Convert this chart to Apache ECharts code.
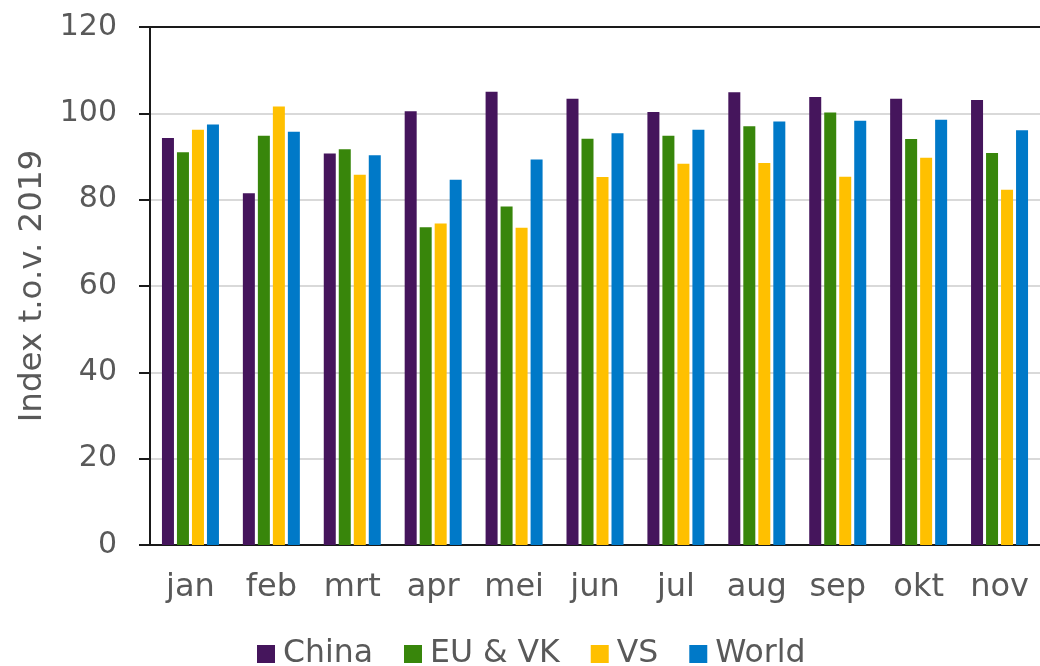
<!DOCTYPE html>
<html>
<head>
<meta charset="utf-8">
<script src="https://cdn.jsdelivr.net/npm/echarts@6/dist/echarts.min.js"></script>
<style>html,body{margin:0;padding:0;background:#fff}#c{width:1040px;height:666px}</style>
</head>
<body>
<div id="c"></div>
<script>
const categories = ['jan','feb','mrt','apr','mei','jun','jul','aug','sep','okt','nov'];
const seriesNames = ['China','EU & VK','VS','World'];
const china = [94.3, 81.5, 90.7, 100.5, 105.0, 103.4, 100.3, 104.9, 103.8, 103.4, 103.1];
const euVk  = [91.0, 94.8, 91.7, 73.6, 78.4, 94.1, 94.8, 97.0, 100.2, 94.05, 90.8];
const vs    = [96.2, 101.6, 85.8, 74.5, 73.5, 85.25, 88.3, 88.5, 85.3, 89.7, 82.3];
const world = [97.4, 95.75, 90.3, 84.6, 89.3, 95.4, 96.2, 98.1, 98.3, 98.5, 96.1];
const yTicks = [0, 20, 40, 60, 80, 100, 120];

const colors = ['#45155c', '#38860b', '#ffc000', '#0079c8'];
const font = 'DejaVu Sans';
const textColor = '#595959';

const chart = echarts.init(document.getElementById('c'), null, {renderer: 'canvas'});
const dataSets = [china, euVk, vs, world];
chart.setOption({
  animation: false,
  color: colors,
  grid: {left: 150, right: 0, top: 27, bottom: 121, containLabel: false},
  legend: {
    left: 257, top: 638, padding: 0,
    itemWidth: 18, itemHeight: 18, itemGap: 31,
    icon: 'rect',
    textStyle: {fontFamily: font, fontSize: 31.5, color: textColor, padding: [0,0,0,3]},
    data: seriesNames
  },
  xAxis: [{
    type: 'category',
    data: categories,
    axisLine: {show: true, lineStyle: {color: '#1a1a1a', width: 2}},
    axisTick: {show: false},
    axisLabel: {fontFamily: font, fontSize: 32, color: textColor, margin: 27}
  }, {
    type: 'category',
    data: categories,
    position: 'top',
    axisLine: {show: true, lineStyle: {color: '#1a1a1a', width: 2}},
    axisTick: {show: false},
    axisLabel: {show: false}
  }],
  yAxis: {
    type: 'value',
    min: 0, max: 120, interval: 20,
    name: 'Index t.o.v. 2019',
    nameLocation: 'middle',
    nameGap: 97,
    nameRotate: 90,
    nameTextStyle: {fontFamily: font, fontSize: 32.5, color: textColor},
    axisLine: {show: true, lineStyle: {color: '#1a1a1a', width: 2}},
    axisTick: {show: true, length: 11, lineStyle: {color: '#1a1a1a', width: 2}},
    axisLabel: {fontFamily: font, fontSize: 30, color: textColor, margin: 33,
      formatter: v => yTicks.includes(v) ? String(v) : ''},
    splitLine: {show: true, lineStyle: {color: '#d9d9d9', width: 2}}
  },
  series: dataSets.map((d, i) => ({
    name: seriesNames[i],
    type: 'bar',
    data: d,
    barWidth: 12,
    barGap: '25%',
    itemStyle: {color: colors[i]}
  }))
});
</script>
</body>
</html>
